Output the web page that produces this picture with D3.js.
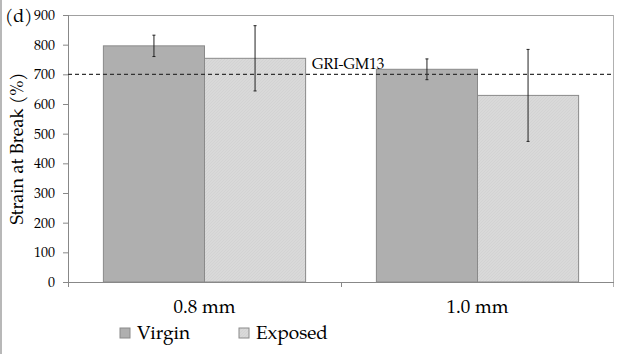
<!DOCTYPE html>
<html>
<head>
<meta charset="utf-8">
<script src="https://cdn.jsdelivr.net/npm/d3@7"></script>
<style>
  body { margin: 0; background: #fff; }
</style>
</head>
<body>
<div id="chart"></div>
<script>
// data
const categories = ["0.8 mm", "1.0 mm"];
const seriesNames = ["Virgin", "Exposed"];
const virgin = [796, 717];
const virginErr = [36, 35];
const exposed = [754, 629];
const exposedErr = [110, 155];
const yTicks = [0, 100, 200, 300, 400, 500, 600, 700, 800, 900];
const standardLine = 700;

const W = 628, H = 354;
const margin = { top: 15, right: 14, bottom: 72, left: 68 };
const width = W - margin.left - margin.right;
const height = H - margin.top - margin.bottom;
const serif = "TeX Gyre Pagella, Liberation Serif, serif";

const svg = d3.select("#chart").append("svg")
  .attr("width", W).attr("height", H)
  .attr("font-family", serif);

// hatch pattern for the exposed bars
const defs = svg.append("defs");
const pat = defs.append("pattern").attr("id", "hatchExp")
  .attr("width", 3).attr("height", 3).attr("patternUnits", "userSpaceOnUse");
pat.append("rect").attr("width", 3).attr("height", 3).attr("fill", "#d9d9d9");
pat.append("path").attr("d", "M0,3 L3,0").attr("stroke", "#cfcfcf").attr("stroke-width", 0.6);

const fills = ["#afafaf", "url(#hatchExp)"];

// outer left border line
svg.append("line").attr("x1", 1).attr("x2", 1).attr("y1", 0).attr("y2", H)
  .attr("stroke", "#b8b8b8").attr("stroke-width", 2);

const g = svg.append("g").attr("transform", "translate(" + margin.left + "," + margin.top + ")");

const x = d3.scaleBand().domain(categories).range([0, width]).paddingInner(0).paddingOuter(0);
const x1 = d3.scaleBand().domain(seriesNames).range([0, x.bandwidth()]).paddingInner(0).paddingOuter(0.35);
const y = d3.scaleLinear().domain([0, 900]).range([height, 0]);

// plot area border (top and right)
g.append("line").attr("x1", 0).attr("x2", width).attr("y1", 0.5).attr("y2", 0.5)
  .attr("stroke", "#a0a0a0");
g.append("line").attr("x1", width - 0.5).attr("x2", width - 0.5).attr("y1", 0).attr("y2", height + 5)
  .attr("stroke", "#b0b0b0");

const rows = categories.map((c, i) => ({
  cat: c,
  vals: [
    { s: "Virgin", v: virgin[i], e: virginErr[i] },
    { s: "Exposed", v: exposed[i], e: exposedErr[i] }
  ]
}));

const grp = g.selectAll(".grp").data(rows).enter().append("g")
  .attr("transform", d => "translate(" + x(d.cat) + ",0)");

grp.selectAll("rect").data(d => d.vals).enter().append("rect")
  .attr("x", d => x1(d.s))
  .attr("width", x1.bandwidth())
  .attr("y", d => y(d.v))
  .attr("height", d => height - y(d.v))
  .attr("fill", (d, i) => fills[i])
  .attr("stroke", "#8a8a8a")
  .attr("stroke-width", 1);

// error bars
const eb = grp.selectAll(".eb").data(d => d.vals).enter().append("g");
eb.append("line")
  .attr("x1", d => x1(d.s) + x1.bandwidth() / 2)
  .attr("x2", d => x1(d.s) + x1.bandwidth() / 2)
  .attr("y1", d => y(d.v + d.e))
  .attr("y2", d => y(d.v - d.e))
  .attr("stroke", "#222").attr("stroke-width", 1);
[1, -1].forEach(sgn => {
  eb.append("line")
    .attr("x1", d => x1(d.s) + x1.bandwidth() / 2 - 1.5)
    .attr("x2", d => x1(d.s) + x1.bandwidth() / 2 + 1.5)
    .attr("y1", d => y(d.v + sgn * d.e))
    .attr("y2", d => y(d.v + sgn * d.e))
    .attr("stroke", "#222").attr("stroke-width", 1);
});

// y axis
const yAxis = g.append("g").call(d3.axisLeft(y).tickValues(yTicks).tickSize(5).tickPadding(8));
yAxis.attr("font-family", serif);
yAxis.select(".domain").attr("stroke", "#888").attr("d", "M0.5," + (height + 5) + "V0");
yAxis.selectAll(".tick line").attr("stroke", "#888");
yAxis.selectAll("text").attr("font-family", serif).attr("font-size", 14).attr("fill", "#000");

// x axis
const xAxis = g.append("g").attr("transform", "translate(0," + height + ")")
  .call(d3.axisBottom(x).tickSize(0).tickPadding(18));
xAxis.attr("font-family", serif);
xAxis.select(".domain").attr("stroke", "#888").attr("d", "M0,0.5H" + width);
xAxis.selectAll("text").attr("font-family", serif).attr("font-size", 19).attr("fill", "#000");
xAxis.selectAll(".sep").data([categories[1]]).enter().append("line")
  .attr("x1", d => x(d) + 0.5).attr("x2", d => x(d) + 0.5)
  .attr("y1", 0).attr("y2", 5).attr("stroke", "#888");

// standard line
g.append("line").attr("x1", 0).attr("x2", width)
  .attr("y1", y(standardLine)).attr("y2", y(standardLine))
  .attr("stroke", "#333").attr("stroke-width", 1.3).attr("stroke-dasharray", "4,3");
g.append("text").attr("x", 244).attr("y", y(standardLine) - 5)
  .attr("font-size", 15).text("GRI-GM13");

// y title
svg.append("text")
  .attr("transform", "translate(23," + (margin.top + height / 2) + ") rotate(-90)")
  .attr("text-anchor", "middle").attr("font-size", 18)
  .text("Strain at Break (%)");

// panel label
svg.append("text").attr("x", 5).attr("y", 22).attr("font-size", 18).text("(d)");

// legend
const leg = svg.append("g").attr("transform", "translate(120,328)");
const li = leg.selectAll(".li").data(seriesNames).enter().append("g")
  .attr("transform", (d, i) => "translate(" + (i * 119) + ",0)");
li.append("rect").attr("width", 10).attr("height", 10)
  .attr("fill", (d, i) => fills[i]).attr("stroke", "#8a8a8a");
li.append("text").attr("x", 17).attr("y", 11).attr("font-size", 19).text(d => d);
</script>
</body>
</html>
